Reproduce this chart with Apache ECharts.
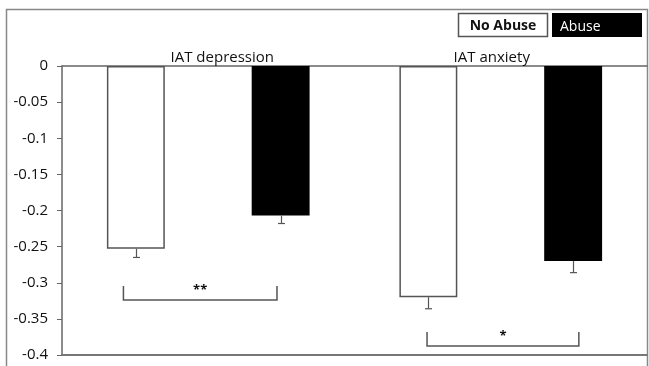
<!DOCTYPE html>
<html><head><meta charset="utf-8">
<script src="https://cdn.jsdelivr.net/npm/echarts@6/dist/echarts.min.js"></script>
<style>html,body{margin:0;padding:0;background:#fff}#c{width:649px;height:366px}</style>
</head><body><div id="c"></div>
<script>
const categories = ['IAT depression', 'IAT anxiety'];
const seriesNames = ['No Abuse', 'Abuse'];
const noAbuse = [-0.253, -0.320];
const abuse = [-0.207, -0.270];
const noAbuseErr = [0.012, 0.016];
const abuseErr = [0.011, 0.016];
// brackets: [xStart, xEnd (in category units 0..2), yTip, yLine, stars]
const brackets = [
  [0.21, 0.735, -0.3045, -0.324, '**'],
  [1.248, 1.767, -0.368, -0.3875, '*']
];

const FONT = '"Open Sans", "Noto Sans", sans-serif';
const BAR_W = 0.198, BAR_GAP = 1.5;
const OFF = BAR_W * (1 + BAR_GAP) / 2;

const chart = echarts.init(document.getElementById('c'), null, {renderer: 'canvas'});

function errItem(params, api) {
  const ci = api.value(0), v = api.value(1), e = api.value(2), off = api.value(3);
  const p0 = api.coord([ci, v]);
  const p1 = api.coord([ci, v - e]);
  const bw = api.size([1, 0])[0];
  const x = Math.round(p0[0] + off * bw) + 0.5;
  const st = {stroke: '#555', lineWidth: 1.2};
  return {type: 'group', children: [
    {type: 'line', shape: {x1: x, y1: p0[1], x2: x, y2: p1[1]}, style: st},
    {type: 'line', shape: {x1: x - 3.5, y1: p1[1], x2: x + 3.5, y2: p1[1]}, style: st}
  ]};
}

function bracketItem(params, api) {
  const a = api.coord([api.value(0), api.value(2)]);
  const b = api.coord([api.value(1), api.value(3)]);
  const st = {stroke: '#555', lineWidth: 1.5};
  return {type: 'group', children: [
    {type: 'polyline', shape: {points: [[a[0], a[1]], [a[0], b[1]], [b[0], b[1]], [b[0], a[1]]]}, style: Object.assign({fill: null}, st)},
    {type: 'text', x: (a[0] + b[0]) / 2, y: a[1] + 4, style: {text: brackets[params.dataIndex][4], font: 'bold 13px ' + FONT, fill: '#111', align: 'center', verticalAlign: 'middle'}}
  ]};
}

chart.setOption({
  animation: false,
  grid: {left: 62, right: 2, top: 66, bottom: 11},
  xAxis: [
    {type: 'category', data: categories, position: 'top',
     axisLine: {show: true, onZero: false, lineStyle: {color: '#666', width: 1.5}},
     axisTick: {show: false},
     axisLabel: {margin: 1, color: '#111', fontSize: 15, fontFamily: FONT,
       formatter: (v, i) => i === 0 ? '{a|' + v + '}' : '{b|' + v + '}',
       rich: {a: {fontSize: 15, fontFamily: FONT, color: '#111', padding: [0, 0, 0, 28]},
              b: {fontSize: 15, fontFamily: FONT, color: '#111', padding: [0, 18, 0, 0]}}}},
    {type: 'value', min: 0, max: 2, position: 'bottom', show: true,
     axisLine: {show: true, onZero: false, lineStyle: {color: '#777', width: 2}},
     axisTick: {show: false}, axisLabel: {show: false}, splitLine: {show: false}}
  ],
  yAxis: {type: 'value', min: -0.4, max: 0, interval: 0.05,
    axisLine: {show: true, lineStyle: {color: '#666', width: 1.5}},
    axisTick: {show: true, length: 5, lineStyle: {color: '#666'}},
    axisLabel: {color: '#111', fontSize: 15, fontFamily: FONT, margin: 14},
    splitLine: {show: false}},
  graphic: [
    {type: 'rect', z: -1, shape: {x: 6.5, y: 9.5, width: 641, height: 380}, style: {fill: null, stroke: '#888', lineWidth: 1.5}},
    {type: 'rect', shape: {x: 458.5, y: 13.5, width: 89, height: 23}, style: {fill: '#fff', stroke: '#555', lineWidth: 1.5}},
    {type: 'text', x: 503, y: 26, style: {text: seriesNames[0], font: 'bold 14px ' + FONT, fill: '#111', align: 'center', verticalAlign: 'middle'}},
    {type: 'rect', shape: {x: 552, y: 13, width: 90, height: 24}, style: {fill: '#000'}},
    {type: 'text', x: 560, y: 27, style: {text: seriesNames[1], font: '14px ' + FONT, fill: '#fff', align: 'left', verticalAlign: 'middle'}}
  ],
  series: [
    {name: seriesNames[0], type: 'bar', data: noAbuse, barWidth: (BAR_W * 100) + '%', barGap: (BAR_GAP * 100) + '%',
     itemStyle: {color: '#fff', borderColor: '#555', borderWidth: 1.5}},
    {name: seriesNames[1], type: 'bar', data: abuse, barWidth: (BAR_W * 100) + '%',
     itemStyle: {color: '#000', borderColor: '#000', borderWidth: 0}},
    {type: 'custom', renderItem: errItem, z: 5,
     data: noAbuse.map((v, i) => [i, v, noAbuseErr[i], -OFF]).concat(abuse.map((v, i) => [i, v, abuseErr[i], OFF]))},
    {type: 'custom', xAxisIndex: 1, renderItem: bracketItem, z: 5,
     data: brackets.map(b => [b[0], b[1], b[2], b[3]])}
  ]
});
</script></body></html>
